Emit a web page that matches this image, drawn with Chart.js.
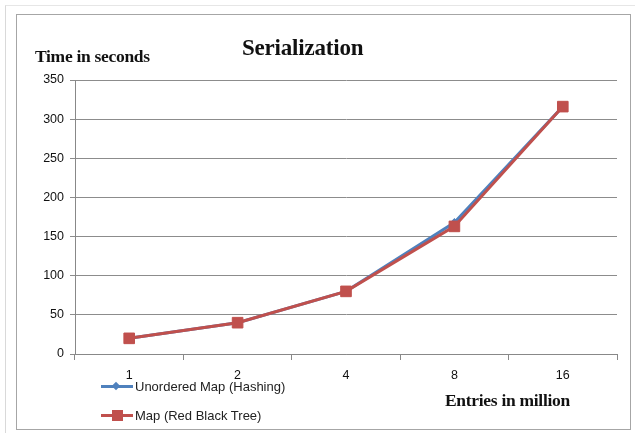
<!DOCTYPE html>
<html>
<head>
<meta charset="utf-8">
<script src="https://cdn.jsdelivr.net/npm/chart.js@4/dist/chart.umd.min.js"></script>
<style>
  html,body{margin:0;padding:0;background:#fff;}
  body{width:635px;height:433px;position:relative;overflow:hidden;font-family:"Liberation Sans",Arial,sans-serif;}
  #page{position:absolute;left:5px;top:5px;width:630px;height:428px;border-left:1px solid #d9d9d9;border-top:1px solid #e6e6e6;}
  #frame{position:absolute;left:16px;top:14px;width:615px;height:416px;border:1px solid #a6a6a6;box-sizing:border-box;}
  canvas{position:absolute;left:0;top:0;}
  .t{position:absolute;font-family:"Liberation Serif","Times New Roman",serif;font-weight:bold;color:#111;white-space:nowrap;}
  .leg{position:absolute;font-size:13px;color:#222;white-space:nowrap;display:flex;align-items:center;}
  .sw{position:relative;width:32px;height:10px;margin-right:2px;}
  .sw .ln{position:absolute;left:0;top:3px;width:32px;height:3px;}
  .sw .mk{position:absolute;}
</style>
</head>
<body>
<div id="page"></div>
<div id="frame"></div>
<canvas id="c" width="635" height="433"></canvas>
<div class="t" style="left:242px;top:35px;font-size:23px;letter-spacing:-0.2px;">Serialization</div>
<div class="t" style="left:35px;top:46px;font-size:17.5px;letter-spacing:-0.3px;">Time in seconds</div>
<div class="t" style="left:445px;top:390px;font-size:17.5px;letter-spacing:-0.3px;">Entries in million</div>
<div class="leg" style="left:101px;top:379px;">
  <div class="sw"><div class="ln" style="background:#4F81BD"></div><div class="mk" style="left:12px;top:1px;width:6px;height:6px;background:#4F81BD;transform:rotate(45deg);"></div></div>Unordered Map (Hashing)
</div>
<div class="leg" style="left:101px;top:408px;">
  <div class="sw"><div class="ln" style="background:#C0504D"></div><div class="mk" style="left:11px;top:-1px;width:11px;height:11px;background:#C0504D;"></div></div>Map (Red Black Tree)
</div>
<script>
const categories = ["1", "2", "4", "8", "16"];
const unorderedMap = [20, 40, 80, 168, 316];
const rbTreeMap = [20, 40, 80, 163, 316];
const yTicks = [0, 50, 100, 150, 200, 250, 300, 350];

new Chart(document.getElementById('c'), {
  type: 'line',
  data: {
    labels: categories,
    datasets: [
      {label: 'Unordered Map (Hashing)', data: unorderedMap, borderColor: '#4F81BD', backgroundColor: '#4F81BD',
       borderWidth: 3, pointStyle: 'rectRot', pointRadius: 4, pointBorderWidth: 1, tension: 0, order: 1},
      {label: 'Map (Red Black Tree)', data: rbTreeMap, borderColor: '#C0504D', backgroundColor: '#C0504D',
       borderWidth: 3, pointStyle: 'rect', pointRadius: 7.5, pointBorderWidth: 1, tension: 0, order: 0}
    ]
  },
  options: {
    responsive: false,
    animation: false,
    layout: {padding: {left: 15, right: 18, top: 80, bottom: 39}},
    plugins: {legend: {display: false}, title: {display: false}, tooltip: {enabled: false}},
    scales: {
      x: {
        offset: true,
        grid: {offset: true, drawOnChartArea: false, drawTicks: true, tickLength: 6, color: '#888'},
        border: {color: '#888', width: 1},
        ticks: {color: '#111', font: {family: 'Liberation Sans', size: 12.5}, padding: 8},
        afterFit: s => { s.height = 40; }
      },
      y: {
        min: 0, max: 350,
        afterBuildTicks: s => { s.ticks = yTicks.map(v => ({value: v})); },
        grid: {color: '#8c8c8c', lineWidth: 1, tickLength: 5},
        border: {color: '#888', width: 1},
        ticks: {color: '#111', font: {family: 'Liberation Sans', size: 12.5}, padding: 6},
        afterFit: s => { s.width = 60; }
      }
    }
  }
});
</script>
</body>
</html>
